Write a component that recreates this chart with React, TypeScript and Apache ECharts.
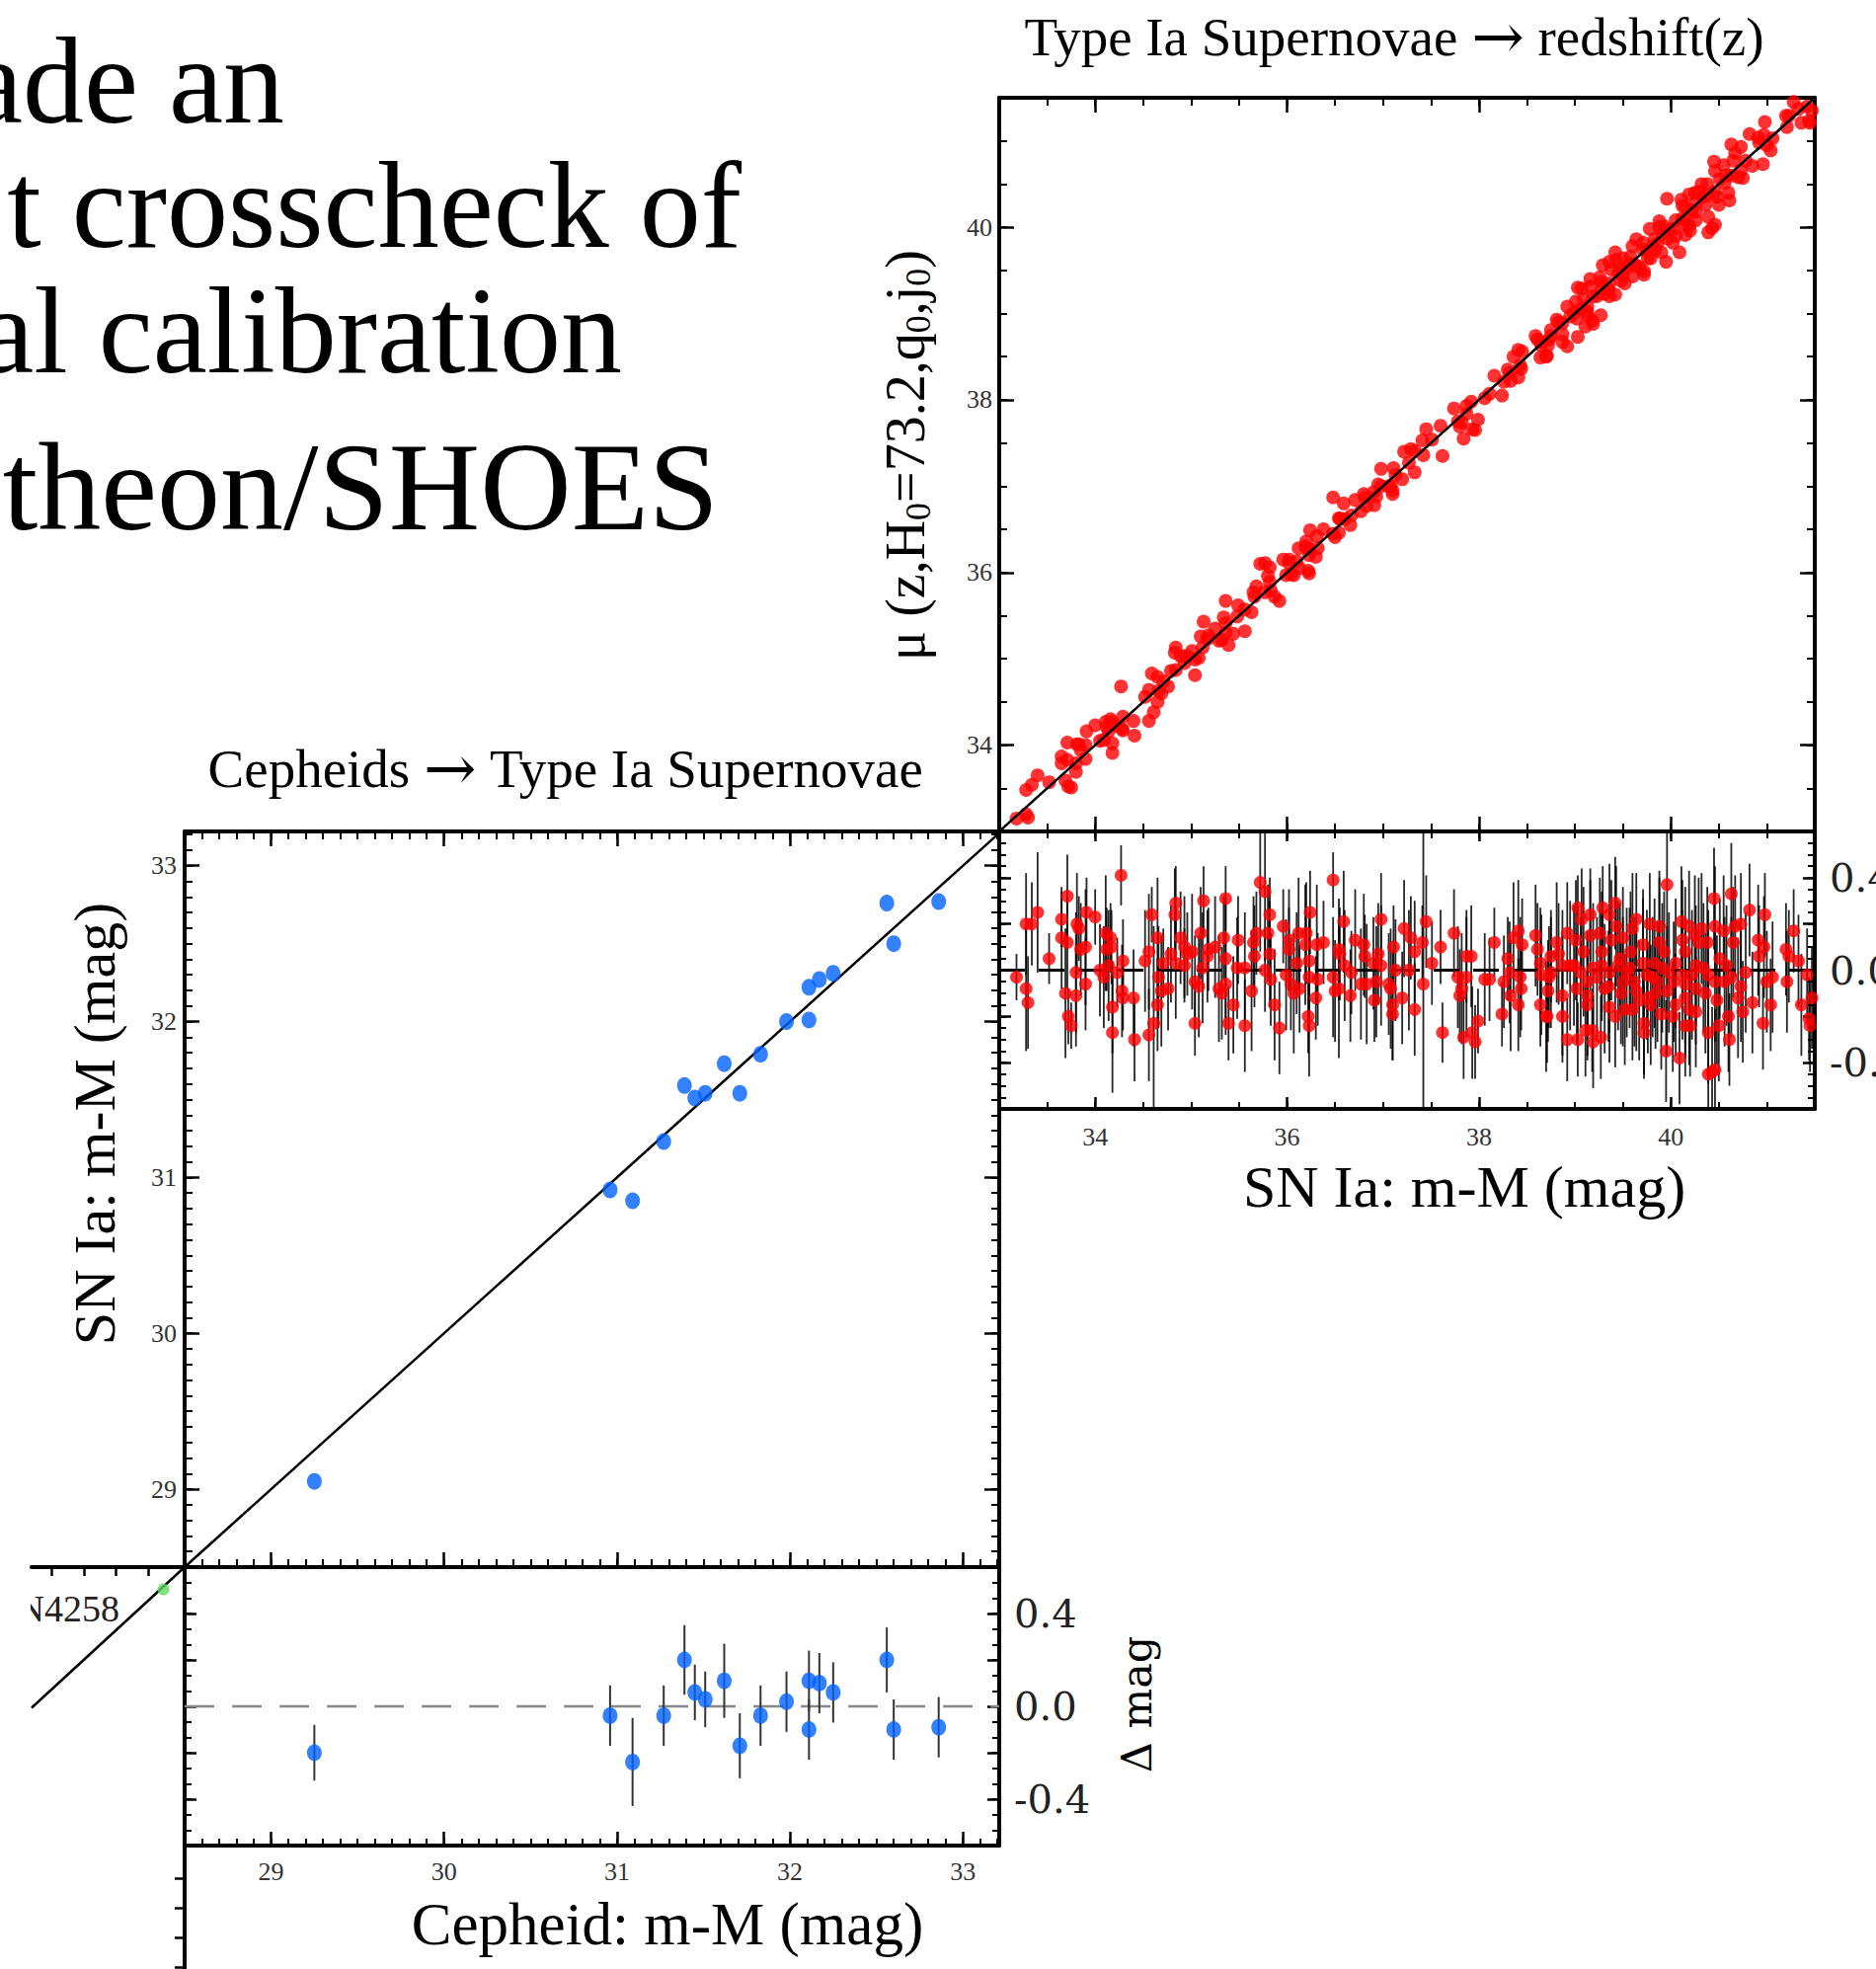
import React, { useEffect, useRef } from "react";
import * as echarts from "echarts";

const W = 1900;
const H = 1994;

// ---------------- data ----------------
const slideLines = ["ade an", "t crosscheck of", "al calibration", "theon/SHOES"];
const titleHubble = ["Type Ia Supernovae", "redshift(z)"];
const titleCalib = ["Cepheids", "Type Ia Supernovae"];
const xTitleHubble = "SN Ia: m-M (mag)";
const xTitleCalib = "Cepheid: m-M (mag)";
const yTitleCalib = "SN Ia: m-M (mag)";
const yTitleResid = "\u0394 mag";

// Hubble-flow SNe Ia: [SN Ia m-M, residual (mag), error (mag)]
const snHubble: number[][] = [
  [33.18,-0.03,0.10],[33.28,0.20,0.22],[33.34,0.20,0.18],[33.28,-0.08,0.27],[33.30,-0.14,0.20],
  [33.40,0.25,0.26],[33.52,0.05,0.11],[33.65,0.22,0.12],[33.71,0.32,0.18],[33.65,0.14,0.22],
  [33.71,0.12,0.20],[33.69,-0.10,0.28],[33.72,-0.20,0.12],[33.75,-0.24,0.10],[33.80,-0.01,0.26],
  [33.80,-0.11,0.22],[33.81,0.20,0.22],[33.83,0.18,0.14],[33.85,0.09,0.20],[33.90,0.10,0.25],
  [33.91,0.25,0.15],[33.90,-0.06,0.20],[34.00,0.23,0.12],[34.11,0.16,0.25],[34.12,0.09,0.18],
  [34.16,0.14,0.15],[34.05,0.00,0.20],[34.09,-0.03,0.22],[34.17,0.10,0.16],[34.14,0.02,0.24],
  [34.18,-0.16,0.20],[34.18,-0.27,0.26],[34.23,-0.01,0.15],[34.27,0.41,0.13],[34.29,0.04,0.18],
  [34.28,-0.09,0.20],[34.29,-0.12,0.14],[34.40,-0.12,0.21],[34.41,-0.30,0.18],[34.52,0.04,0.22],
  [34.56,0.08,0.25],[34.59,0.24,0.12],[34.56,-0.28,0.20],[34.61,-0.23,0.42],[34.65,0.14,0.26],
  [34.66,-0.03,0.22],[34.65,-0.15,0.20],[34.69,-0.09,0.24],[34.76,-0.08,0.18],[34.71,0.03,0.15],
  [34.79,0.07,0.21],[34.84,0.29,0.16],[34.83,0.24,0.20],[34.84,0.03,0.24],[34.89,0.14,0.20],
  [34.93,0.10,0.22],[34.96,0.07,0.18],[35.01,0.08,0.25],[34.93,0.02,0.16],[35.04,-0.05,0.20],
  [35.08,-0.07,0.22],[35.04,-0.23,0.14],[35.10,0.16,0.20],[35.13,0.30,0.15],[35.12,0.01,0.24],
  [35.17,0.06,0.20],[35.18,0.09,0.18],[35.25,0.10,0.22],[35.29,-0.08,0.23],[35.32,-0.10,0.20],
  [35.34,0.14,0.18],[35.36,0.05,0.26],[35.36,0.31,0.14],[35.36,-0.06,0.22],[35.39,-0.23,0.16],
  [35.44,-0.15,0.21],[35.48,0.01,0.22],[35.49,0.13,0.19],[35.56,0.01,0.24],[35.56,-0.24,0.20],
  [35.63,-0.09,0.26],[35.65,0.12,0.20],[35.66,0.06,0.22],[35.68,0.16,0.18],[35.72,0.38,0.30],
  [35.77,0.34,0.30],[35.80,0.16,0.21],[35.82,0.24,0.16],[35.82,0.07,0.23],[35.83,-0.04,0.20],
  [35.87,-0.15,0.24],[35.77,0.00,0.18],
  [35.92,-0.25,0.20],[35.96,0.19,0.16],[35.99,-0.02,0.24],[36.02,0.13,0.22],[36.02,0.09,0.18],
  [36.04,-0.06,0.20],[36.07,-0.10,0.26],[36.10,0.03,0.22],[36.12,0.16,0.24],[36.13,-0.08,0.19],
  [36.20,0.16,0.22],[36.19,0.11,0.26],[36.23,0.04,0.21],[36.24,0.25,0.18],[36.23,-0.03,0.24],
  [36.22,-0.20,0.16],[36.23,-0.24,0.22],[36.30,-0.12,0.18],[36.31,0.11,0.26],[36.32,-0.04,0.20],
  [36.38,0.12,0.18],[36.48,0.39,0.12],[36.48,-0.03,0.26],[36.50,-0.09,0.22],[36.54,-0.08,0.30],
  [36.54,0.09,0.22],[36.55,0.07,0.20],[36.59,0.21,0.22],[36.60,0.02,0.24],[36.66,-0.11,0.20],
  [36.67,-0.01,0.18],[36.71,0.13,0.22],[36.77,-0.06,0.24],[36.80,0.11,0.22],[36.81,0.06,0.18],
  [36.83,-0.06,0.26],[36.90,0.03,0.20],[36.91,-0.13,0.18],[36.93,-0.05,0.24],[36.95,0.07,0.22],
  [36.98,0.22,0.20],[36.98,0.02,0.26],[37.06,-0.06,0.22],[37.08,-0.08,0.26],[37.10,-0.15,0.24],
  [37.10,-0.19,0.20],[37.11,0.10,0.18],[37.13,0.00,0.22],[37.20,-0.12,0.20],[37.22,0.18,0.21],
  [37.27,0.00,0.26],[37.29,0.14,0.18],[37.33,0.08,0.22],[37.33,-0.17,0.20],[37.41,0.12,0.16],
  [37.42,-0.06,0.70],[37.45,0.21,0.20],[37.51,0.03,0.18],[37.60,0.10,0.16],[37.62,-0.27,0.13],
  [37.74,0.16,0.19],[37.78,-0.03,0.22],[37.80,-0.11,0.20],[37.82,-0.08,0.24],[37.84,-0.29,0.18],
  [37.87,0.06,0.20],[37.87,-0.03,0.26],[37.92,0.06,0.22],[37.93,-0.27,0.20],[37.96,-0.31,0.16],
  [37.99,-0.22,0.14],[38.06,-0.04,0.20],[38.11,-0.04,0.18],[38.16,0.12,0.15],[38.24,-0.19,0.14],
  [38.26,-0.05,0.20],[38.30,0.05,0.18],[38.32,-0.01,0.22],[38.33,-0.11,0.24],[38.36,0.14,0.24],
  [38.41,0.17,0.22],[38.41,-0.15,0.20],[38.43,-0.03,0.26],[38.44,-0.08,0.18],[38.45,0.11,0.20],
  [38.59,0.15,0.22],[38.61,0.09,0.20],[38.64,0.03,0.24],[38.65,-0.02,0.26],[38.64,-0.15,0.18],
  [38.70,-0.20,0.24],[38.72,-0.09,0.22],[38.75,0.06,0.20],[38.75,-0.01,0.24],
  [38.73,-0.03,0.22],[38.71,-0.20,0.20],[38.81,0.12,0.26],[38.83,0.07,0.22],[38.87,0.02,0.24],
  [38.87,-0.20,0.20],[38.87,-0.11,0.26],[38.92,0.16,0.22],[38.92,-0.30,0.18],[38.95,0.02,0.28],
  [39.01,0.13,0.26],[39.02,-0.08,0.24],[39.03,0.27,0.14],[39.03,-0.30,0.16],[39.07,0.22,0.22],
  [39.09,0.08,0.28],[39.11,-0.26,0.20],[39.13,-0.15,0.24],[39.13,-0.11,0.26],[39.16,0.24,0.20],
  [39.16,0.15,0.24],[39.18,-0.26,0.18],[39.19,-0.31,0.20],[39.19,0.01,0.28],[39.23,-0.03,0.26],
  [39.26,0.16,0.24],[39.27,-0.29,0.18],[39.29,0.27,0.18],[39.28,0.08,0.26],[39.31,-0.08,0.28],
  [39.36,0.24,0.22],[39.36,-0.16,0.24],[39.38,0.13,0.26],[39.42,0.29,0.20],[39.42,-0.20,0.22],
  [39.43,0.19,0.26],[39.45,0.02,0.28],[39.47,0.05,0.24],[39.50,0.14,0.22],[39.52,-0.17,0.24],
  [39.54,-0.01,0.28],[39.58,0.08,0.26],[39.60,0.18,0.24],[39.62,-0.05,0.28],[39.64,0.22,0.20],
  [39.67,-0.13,0.26],[39.71,0.11,0.24],[39.72,-0.23,0.22],[39.72,-0.27,0.20],[39.75,-0.02,0.28],
  [39.78,0.20,0.22],[39.79,-0.15,0.26],[39.83,0.03,0.28],[39.86,-0.05,0.26],[39.88,0.19,0.24],
  [39.88,0.12,0.28],[39.90,-0.19,0.24],[39.93,0.08,0.26],[39.95,-0.35,0.22],[39.96,0.37,0.45],
  [39.96,-0.09,0.28],[39.98,-0.01,0.26],[40.02,-0.20,0.24],[40.05,0.03,0.28],[40.09,-0.38,0.20],
  [40.11,0.21,0.24],[40.12,0.13,0.26],[40.15,0.08,0.28],[40.15,-0.12,0.26],[40.15,-0.24,0.22],
  [40.19,0.19,0.24],[40.20,-0.24,0.22],[40.22,-0.02,0.28],[40.25,0.15,0.26],[40.26,-0.18,0.24],
  [40.29,0.12,0.28],[40.32,0.18,0.24],[40.34,0.01,0.28],[40.36,-0.10,0.26],[40.38,0.12,0.24],
  [40.39,-0.27,0.22],[40.39,-0.45,0.26],[40.43,-0.44,0.28],[40.46,-0.43,0.26],[40.45,0.31,0.22],
  [40.46,0.19,0.26],[40.48,-0.13,0.28],[40.50,-0.24,0.24],[40.51,0.05,0.26],[40.55,0.17,0.24],
  [40.56,-0.05,0.28],[40.60,-0.20,0.24],[40.61,-0.30,0.20],[40.63,0.33,0.22],[40.63,-0.03,0.26],
  [40.65,0.12,0.24],[40.67,0.19,0.22],[40.70,-0.12,0.26],[40.73,0.20,0.22],[40.73,-0.07,0.24],
  [40.75,-0.18,0.22],[40.78,-0.01,0.26],[40.82,0.26,0.20],[40.85,-0.14,0.22],[40.91,0.13,0.24],
  [40.92,0.06,0.22],[40.96,-0.23,0.20],[40.97,0.10,0.22],[40.98,0.24,0.18],[41.00,-0.05,0.22],
  [41.04,-0.15,0.20],[41.06,-0.03,0.24],[41.20,0.09,0.20],[41.21,-0.05,0.22],[41.23,0.06,0.20],
  [41.28,0.17,0.18],[41.33,0.04,0.20],[41.36,-0.15,0.22],[41.42,-0.02,0.20],[41.44,-0.21,0.18],
  [41.45,-0.24,0.20],[41.47,-0.12,0.22],
  [39.36,-0.01,0.26],[39.50,-0.05,0.28],[39.57,0.01,0.26],[39.71,0.03,0.28],[39.81,-0.03,0.26],
  [39.91,0.01,0.28],[40.03,-0.05,0.26],[40.12,-0.02,0.28],[40.26,0.02,0.26],[40.39,-0.02,0.28],
  [40.46,-0.05,0.26],[39.06,-0.01,0.24],[38.99,0.02,0.26],[39.28,0.02,0.24],[39.64,-0.09,0.26],
  [39.84,-0.10,0.24],[40.15,-0.06,0.26],[40.26,-0.08,0.24],[40.58,0.02,0.26],[39.13,-0.05,0.22],
  [39.35,-0.07,0.24],[39.48,-0.10,0.22],[39.76,-0.12,0.24],[40.05,-0.15,0.22],[40.19,-0.17,0.24],
  [39.60,-0.17,0.22],
];

// Cepheid-calibrated SN hosts
const cephMM = [29.25, 30.96, 31.09, 31.27, 31.39, 31.45, 31.51, 31.62, 31.71, 31.83, 31.98, 32.11, 32.11, 32.17, 32.25, 32.56, 32.60, 32.86];
const cephSN = [29.05, 30.92, 30.85, 31.23, 31.59, 31.51, 31.54, 31.73, 31.54, 31.79, 32.00, 32.22, 32.01, 32.27, 32.31, 32.76, 32.50, 32.77];
const cephErr = [0.12, 0.13, 0.19, 0.13, 0.15, 0.12, 0.12, 0.16, 0.14, 0.13, 0.13, 0.13, 0.13, 0.13, 0.13, 0.14, 0.13, 0.13];

// geometric anchor panel (mostly cropped)
const anchorName = "N4258";
const anchorPoint = [29.49, 29.45];
const anchorFit = [[29.62, 29.6], [28.68, 28.65]];

// axis ranges and ticks
const hubbleRange = [33, 41.5];
const calibXRange = [28.5, 33.21];
const calibYRange = [28.5, 33.22];
const residRange = [-0.6, 0.6];
const anchorXRange = [28.68, 29.62];
const anchorYRange = [25.6, 29.6];
const hubbleTicks = [34, 36, 38, 40];
const calibTicks = [29, 30, 31, 32, 33];
const residLabels = [-0.4, 0, 0.4];
const anchorXTicks = [28.8, 29.0, 29.2, 29.4];
const anchorYTicks = [27.5, 27.3, 27.1, 26.9];

// ---------------- styling ----------------
const SERIF = "'Liberation Serif', 'Times New Roman', serif";
const WIDE = "'DejaVu Serif', serif";
const RED = "#ff0000";
const BLUE = "#0062ff";
const GREEN = "#5fd85f";

type Side = "top" | "bottom" | "left" | "right";

function buildOption() {
  const xAxes: any[] = [];
  const yAxes: any[] = [];

  const side = (grid: number, pos: Side, range: number[], o: any) => {
    const list = pos === "top" || pos === "bottom" ? xAxes : yAxes;
    const base = {
      type: "value", gridIndex: grid, position: pos, min: range[0], max: range[1],
      splitLine: { show: false }, minorTick: { show: false }, minorSplitLine: { show: false }, silent: true,
    };
    const major: any = {
      ...base,
      axisLine: { show: o.line !== false, onZero: false, lineStyle: { color: "#000", width: 4 } },
      axisTick: { show: true, inside: true, length: o.majorLen ?? 15, lineStyle: { color: "#000", width: 2.5 } },
      axisLabel: { show: false },
    };
    if (o.majorStep) major.interval = o.majorStep;
    if (o.major) major.axisTick.customValues = o.major;
    if (o.labels) {
      major.axisLabel = {
        show: true, customValues: o.labels, formatter: o.fmt, margin: o.margin ?? 8,
        fontFamily: o.font ?? SERIF, fontSize: o.size ?? 26, color: o.color ?? "#333",
      };
    }
    const idx = list.length;
    list.push(major);
    if (o.minorStep) {
      list.push({
        ...base, interval: o.minorStep,
        axisLine: { show: false, onZero: false },
        axisTick: { show: true, inside: true, length: o.minorLen ?? 8, lineStyle: { color: "#000", width: 2 } },
        axisLabel: { show: false },
      });
    }
    return idx;
  };

  const fmt1 = (v: number) => v.toFixed(1);

  // grid 0 : Hubble diagram
  const x0 = side(0, "bottom", hubbleRange, { major: hubbleTicks, minorStep: 0.5 });
  side(0, "top", hubbleRange, { major: hubbleTicks, minorStep: 0.5 });
  const y0 = side(0, "left", hubbleRange, { major: hubbleTicks, minorStep: 0.5, labels: hubbleTicks, margin: 7 });
  side(0, "right", hubbleRange, { major: hubbleTicks, minorStep: 0.5 });

  // grid 1 : Hubble residuals
  const x1 = side(1, "bottom", hubbleRange, { major: hubbleTicks, minorStep: 0.5, majorLen: 12, minorLen: 7, labels: hubbleTicks, margin: 15 });
  side(1, "top", hubbleRange, { major: hubbleTicks, minorStep: 0.5, majorLen: 10, minorLen: 7 });
  const y1 = side(1, "left", residRange, { majorStep: 0.2, minorStep: 0.05, majorLen: 12, minorLen: 7 });
  side(1, "right", residRange, { majorStep: 0.2, minorStep: 0.05, majorLen: 12, minorLen: 7, labels: residLabels, fmt: fmt1, font: WIDE, size: 40, color: "#222", margin: 15 });

  // grid 2 : Cepheid vs SN
  const x2 = side(2, "bottom", calibXRange, { major: calibTicks, minorStep: 0.1 });
  side(2, "top", calibXRange, { major: calibTicks, minorStep: 0.1 });
  const y2 = side(2, "left", calibYRange, { major: calibTicks, minorStep: 0.1, labels: calibTicks, margin: 8 });
  side(2, "right", calibYRange, { major: calibTicks, minorStep: 0.1 });

  // grid 3 : calibrator residuals
  const x3 = side(3, "bottom", calibXRange, { major: calibTicks, minorStep: 0.1, majorLen: 14, minorLen: 7, labels: calibTicks, margin: 13 });
  const y3 = side(3, "left", residRange, { majorStep: 0.2, minorStep: 0.2 / 3, majorLen: 12, minorLen: 7 });
  side(3, "right", residRange, { majorStep: 0.2, minorStep: 0.2 / 3, majorLen: 12, minorLen: 7, labels: residLabels, fmt: fmt1, font: WIDE, size: 40, color: "#222", margin: 15 });

  // grid 4 : anchor panel (cropped)
  const x4 = side(4, "top", anchorXRange, { major: anchorXTicks, majorLen: 9 });
  const y4 = side(4, "right", anchorYRange, { major: anchorYTicks, majorLen: 10 });

  const errBar = (lo: number, hi: number, color: string, width: number, opacity: number) => (_p: any, api: any) => {
    const x = api.value(0);
    const y = api.value(1);
    const e = api.value(2);
    const a = api.coord([x, Math.max(lo, y - e)]);
    const b = api.coord([x, Math.min(hi, y + e)]);
    return {
      type: "line",
      shape: { x1: a[0], y1: a[1], x2: b[0], y2: b[1] },
      style: { stroke: color, lineWidth: width, opacity },
      silent: true,
    };
  };

  const unity = (r: number[]) => [[r[0], r[0]], [r[1], r[1]]];

  const series: any[] = [
    // Hubble diagram
    {
      type: "scatter", xAxisIndex: x0, yAxisIndex: y0, symbolSize: 14, z: 2, silent: true,
      itemStyle: { color: RED }, data: snHubble.map((p) => [p[0], p[0] + p[1]]),
    },
    {
      type: "line", xAxisIndex: x0, yAxisIndex: y0, symbol: "none", z: 3, silent: true,
      lineStyle: { color: "#000", width: 2.5 }, data: unity(hubbleRange),
    },
    // Hubble residuals
    {
      type: "custom", xAxisIndex: x1, yAxisIndex: y1, z: 1, silent: true,
      dimensions: ["x", "y", "e"], encode: { x: 0, y: 1 },
      renderItem: errBar(residRange[0], residRange[1], "#000", 1.8, 0.85),
      data: snHubble.map((p) => [p[0], p[1], p[2]]),
    },
    {
      type: "line", xAxisIndex: x1, yAxisIndex: y1, symbol: "none", z: 2, silent: true,
      lineStyle: { color: "#000", width: 3, type: [26, 14] },
      data: [[hubbleRange[0], 0], [hubbleRange[1], 0]],
    },
    {
      type: "scatter", xAxisIndex: x1, yAxisIndex: y1, symbolSize: 13, z: 3, silent: true,
      itemStyle: { color: RED }, data: snHubble.map((p) => [p[0], p[1]]),
    },
    // Cepheid vs SN
    {
      type: "line", xAxisIndex: x2, yAxisIndex: y2, symbol: "none", z: 2, silent: true,
      lineStyle: { color: "#000", width: 2.5 }, data: unity([calibXRange[0], calibXRange[1]]),
    },
    {
      type: "scatter", xAxisIndex: x2, yAxisIndex: y2, symbolSize: [15, 17], z: 3, silent: true,
      itemStyle: { color: BLUE }, data: cephMM.map((c, i) => [c, cephSN[i]]),
    },
    // calibrator residuals
    {
      type: "line", xAxisIndex: x3, yAxisIndex: y3, symbol: "none", z: 1, silent: true,
      lineStyle: { color: "#888", width: 2.5, type: [30, 18] },
      data: [[calibXRange[0], 0], [calibXRange[1], 0]],
    },
    {
      type: "custom", xAxisIndex: x3, yAxisIndex: y3, z: 2, silent: true,
      dimensions: ["x", "y", "e"], encode: { x: 0, y: 1 },
      renderItem: errBar(residRange[0], residRange[1], "#333", 2, 1),
      data: cephMM.map((c, i) => [c, cephSN[i] - c, cephErr[i]]),
    },
    {
      type: "scatter", xAxisIndex: x3, yAxisIndex: y3, symbolSize: [15, 17], z: 3, silent: true,
      itemStyle: { color: BLUE }, data: cephMM.map((c, i) => [c, cephSN[i] - c]),
    },
    // anchor panel
    {
      type: "line", xAxisIndex: x4, yAxisIndex: y4, symbol: "none", z: 2, silent: true,
      lineStyle: { color: "#000", width: 2.5 }, data: anchorFit,
    },
    {
      type: "scatter", xAxisIndex: x4, yAxisIndex: y4, symbolSize: 12, z: 3, silent: true,
      itemStyle: { color: GREEN }, data: [anchorPoint],
    },
  ];

  const txt = (text: string, x: number, y: number, o: any = {}) => ({
    type: "text", x, y, rotation: o.rot ?? 0, z: o.z ?? 10, silent: true,
    style: {
      text, fill: o.color ?? "#000", fontFamily: o.font ?? SERIF, fontSize: o.size ?? 55,
      align: o.align ?? "center", textAlign: o.align ?? "center",
      verticalAlign: "middle", textVerticalAlign: "middle",
    },
  });

  // title with a wide arrow glyph
  const arrowTitle = (parts: string[], x: number, y: number) => ({
    type: "text", x, y, z: 10, silent: true,
    style: {
      text: `{a|${parts[0]} }{r|\u2192}{a| ${parts[1]}}`,
      align: "center", textAlign: "center", verticalAlign: "middle", textVerticalAlign: "middle",
      rich: {
        a: { fontFamily: SERIF, fontSize: 55, lineHeight: 64, fill: "#000", color: "#000" },
        r: { fontFamily: WIDE, fontSize: 64, lineHeight: 64, fill: "#000", color: "#000" },
      },
    },
  });

  const slideRight = [288, 751, 630, 728];
  const slideMid = [82, 208, 335, 493];
  const slideSize = [124, 124, 124, 128];

  const graphic: any[] = [
    ...slideLines.map((s, i) => txt(s, slideRight[i], slideMid[i], { size: slideSize[i], align: "right" })),
    arrowTitle(titleHubble, 1412, 37),
    arrowTitle(titleCalib, 573, 778),
    txt(xTitleHubble, 1483, 1202, { size: 60 }),
    txt(xTitleCalib, 676, 1948, { size: 61 }),
    txt(yTitleCalib, 96, 1138, { size: 60, rot: Math.PI / 2 }),
    txt(yTitleResid, 1151, 1726, { size: 43, font: WIDE, rot: Math.PI / 2 }),
    {
      type: "text", x: 917, y: 461, rotation: Math.PI / 2, z: 10, silent: true,
      style: {
        text: "{a|\u03bc (z,H}{s|0}{a|=73.2,q}{s|0}{a|,j}{s|0}{a|)}",
        align: "center", textAlign: "center", verticalAlign: "middle", textVerticalAlign: "middle",
        rich: {
          a: { fontFamily: SERIF, fontSize: 56, lineHeight: 62, fill: "#000", color: "#000" },
          s: { fontFamily: SERIF, fontSize: 36, lineHeight: 22, verticalAlign: "bottom", fill: "#000", color: "#000" },
        },
      },
    },
    txt(anchorName, 121, 1629, { size: 38, align: "right", color: "#222" }),
    { type: "rect", z: 11, silent: true, shape: { x: 0, y: 1600, width: 31, height: 55 }, style: { fill: "#fff" } },
  ];

  const gridBase = { containLabel: false, outerBoundsMode: "none", show: false };

  return {
    animation: false,
    backgroundColor: "#fff",
    grid: [
      { ...gridBase, left: 1012, top: 99, width: 826, height: 743 },
      { ...gridBase, left: 1012, top: 842, width: 826, height: 281 },
      { ...gridBase, left: 187, top: 842, width: 825, height: 745 },
      { ...gridBase, left: 187, top: 1587, width: 825, height: 282 },
      { ...gridBase, left: 32, top: 1587, width: 155, height: 600 },
    ],
    xAxis: xAxes,
    yAxis: yAxes,
    series,
    graphic: { elements: graphic },
  };
}

export default function App() {
  const ref = useRef<HTMLDivElement>(null);
  useEffect(() => {
    if (!ref.current) return;
    const chart = echarts.init(ref.current, undefined, { renderer: "svg", width: W, height: H });
    chart.setOption(buildOption() as any);
    return () => chart.dispose();
  }, []);
  return (
    <div
      ref={ref}
      style={{ position: "absolute", left: 0, top: 0, width: W, height: H, background: "#fff", overflow: "hidden" }}
    />
  );
}
